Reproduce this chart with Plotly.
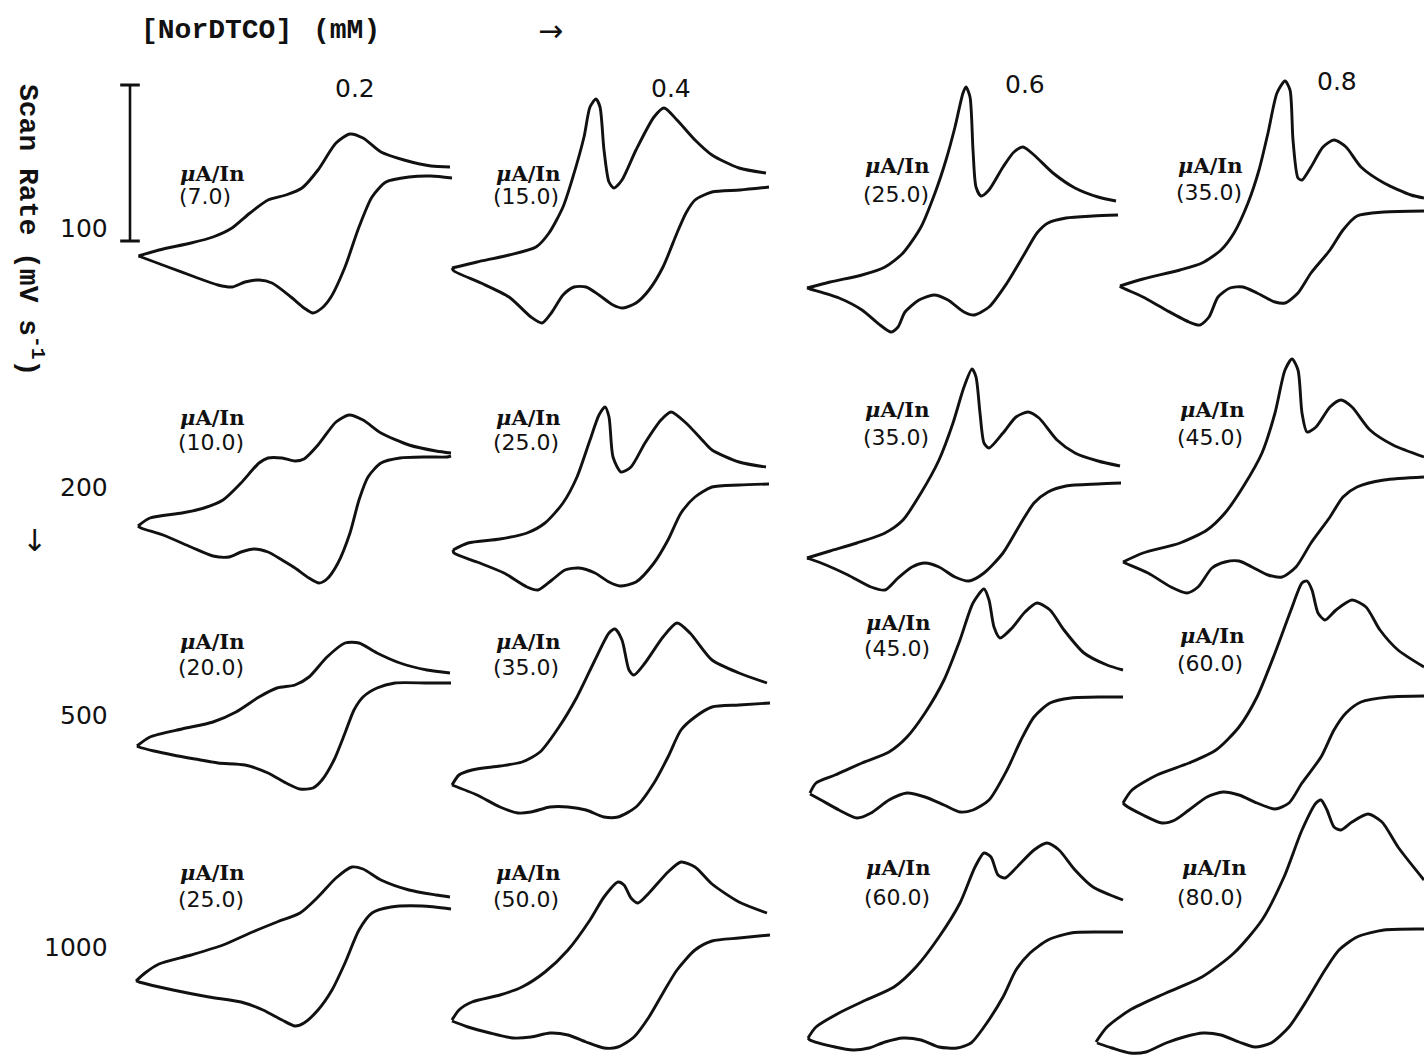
import plotly.graph_objects as go

# ---------------- labels ----------------
CONCENTRATIONS_MM = ["0.2", "0.4", "0.6", "0.8"]
SCAN_RATES = ["100", "200", "500", "1000"]
SENSITIVITY = [
    [7.0, 15.0, 25.0, 35.0],
    [10.0, 25.0, 35.0, 45.0],
    [20.0, 35.0, 45.0, 60.0],
    [25.0, 50.0, 60.0, 80.0],
]

# ---------------- cyclic voltammograms (relative potential, relative current) ----------------
# scan rate 100 mV/s
E_FWD_100_02 = [23.5, 44, 76, 98, 117, 135, 153, 171, 187, 203, 221, 235, 248, 266, 289, 316, 335]
I_FWD_100_02 = [89, 95, 102, 108, 117, 132, 145, 150, 157, 175, 202, 211, 207, 193, 185, 179, 178]
E_REV_100_02 = [337, 316, 294, 271, 257, 244, 230, 216, 207, 198, 189, 176, 157, 144, 130, 117, 103, 80, 53, 23.5]
I_REV_100_02 = [167, 169, 168, 163, 148, 118, 78, 48, 37, 32, 37, 48, 62, 65, 63, 58, 60, 68, 78, 89]

E_FWD_100_04 = [12, 37, 69, 96, 109, 123, 132, 144, 150, 156, 160, 164, 169, 174, 182, 196, 214, 224, 237, 255, 272, 299, 326]
I_FWD_100_04 = [77, 83, 90, 98, 112, 138, 165, 208, 238, 246, 238, 195, 163, 157, 165, 195, 228, 237, 225, 205, 190, 177, 172]
E_REV_100_04 = [329, 300, 272, 255, 246, 237, 223, 209, 196, 183, 173, 159, 146, 134, 123, 112, 102, 91, 69, 41, 14, 12]
I_REV_100_04 = [158, 155, 153, 145, 132, 112, 78, 55, 42, 37, 40, 50, 58, 58, 50, 33, 22, 28, 48, 62, 74, 77]

E_FWD_100_06 = [12, 35, 67, 90, 108, 126, 140, 151, 160, 168, 171, 175, 178, 181, 186, 194, 208, 219, 228, 239, 258, 280, 303, 321]
I_FWD_100_06 = [57, 63, 70, 78, 92, 118, 152, 185, 218, 252, 258, 248, 195, 158, 149, 155, 178, 193, 198, 190, 172, 157, 148, 144]
E_REV_100_06 = [323, 298, 271, 253, 242, 230, 212, 194, 179, 169, 153, 139, 124, 110, 103, 96, 85, 67, 44, 15, 12]
I_REV_100_06 = [130, 129, 127, 122, 112, 92, 62, 38, 30, 33, 45, 50, 45, 33, 18, 13, 20, 35, 47, 56, 57]

E_FWD_100_08 = [30, 53, 90, 112, 131, 144, 158, 169, 178, 187, 195, 200, 203, 208, 212, 221, 233, 244, 256, 271, 294, 321, 334]
I_FWD_100_08 = [59, 66, 75, 82, 95, 112, 142, 175, 212, 252, 264, 255, 205, 167, 165, 178, 198, 205, 198, 178, 162, 150, 147]
E_REV_100_08 = [334, 294, 267, 253, 240, 221, 208, 195, 185, 167, 153, 140, 128, 119, 110, 99, 76, 53, 31, 30]
I_REV_100_08 = [134, 133, 129, 115, 95, 72, 52, 42, 43, 52, 58, 57, 48, 28, 20, 23, 35, 48, 58, 59]

# scan rate 200 mV/s
E_FWD_200_02 = [23, 35, 67, 89, 108, 126, 144, 153, 167, 180, 189, 203, 221, 234, 248, 266, 294, 321, 336]
I_FWD_200_02 = [74, 82, 87, 92, 100, 117, 137, 142, 142, 139, 141, 155, 178, 185, 180, 167, 155, 149, 147]
E_REV_200_02 = [336, 332, 312, 285, 266, 253, 244, 235, 223, 212, 204, 194, 180, 167, 153, 139, 126, 114, 98, 76, 48, 26, 23]
I_REV_200_02 = [144, 143, 143, 142, 137, 123, 100, 67, 37, 21, 17, 22, 32, 40, 48, 51, 48, 43, 44, 53, 65, 72, 74]

E_FWD_200_04 = [13, 28, 60, 87, 105, 123, 137, 150, 159, 165, 169, 173, 181, 191, 205, 221, 231, 246, 264, 272, 299, 326]
I_FWD_200_04 = [50, 57, 61, 67, 77, 97, 123, 160, 185, 193, 183, 143, 128, 133, 157, 180, 188, 177, 158, 150, 138, 133]
E_REV_200_04 = [329, 299, 272, 255, 241, 228, 214, 196, 180, 169, 155, 139, 125, 112, 98, 87, 64, 37, 14, 13]
I_REV_200_04 = [116, 115, 113, 103, 87, 60, 37, 18, 14, 18, 27, 32, 30, 20, 10, 13, 27, 38, 47, 50]

E_FWD_200_06 = [12, 35, 62, 90, 108, 126, 144, 158, 169, 177, 181, 185, 189, 194, 208, 221, 233, 244, 262, 280, 303, 325]
I_FWD_200_06 = [42, 49, 57, 67, 80, 107, 140, 177, 213, 231, 223, 187, 157, 152, 167, 183, 188, 182, 160, 147, 139, 134]
E_REV_200_06 = [326, 303, 271, 253, 239, 226, 208, 189, 174, 160, 144, 130, 117, 103, 90, 76, 53, 31, 15, 12]
I_REV_200_06 = [117, 116, 114, 108, 97, 77, 47, 27, 19, 23, 33, 37, 33, 22, 10, 13, 25, 35, 41, 42]

E_FWD_200_08 = [33, 53, 90, 117, 135, 153, 172, 185, 195, 202, 208, 212, 217, 226, 240, 251, 262, 280, 303, 334]
I_FWD_200_08 = [38, 47, 57, 70, 87, 113, 147, 187, 230, 241, 230, 187, 168, 173, 193, 200, 193, 170, 155, 143]
E_REV_200_08 = [334, 294, 267, 253, 240, 221, 206, 192, 178, 162, 149, 135, 122, 108, 97, 81, 58, 35, 33]
I_REV_200_08 = [123, 120, 113, 103, 83, 57, 33, 23, 25, 33, 39, 38, 32, 13, 7, 13, 27, 37, 38]

# scan rate 500 mV/s
E_FWD_500_02 = [22, 35, 67, 98, 121, 144, 162, 180, 194, 212, 230, 244, 262, 285, 312, 335]
I_FWD_500_02 = [84, 93, 101, 108, 118, 133, 142, 145, 153, 173, 187, 187, 177, 167, 160, 157]
E_REV_500_02 = [336, 312, 280, 262, 248, 239, 230, 219, 207, 198, 185, 171, 153, 130, 103, 80, 58, 39, 24, 22]
I_REV_500_02 = [147, 147, 147, 142, 133, 120, 97, 70, 50, 42, 41, 47, 57, 65, 67, 71, 75, 79, 83, 84]

E_FWD_500_04 = [12, 19, 32, 60, 82, 100, 119, 137, 155, 169, 175, 182, 189, 194, 205, 223, 237, 250, 272, 299, 327]
I_FWD_500_04 = [45, 55, 60, 64, 68, 78, 103, 133, 170, 197, 201, 190, 160, 155, 167, 193, 207, 197, 170, 157, 147]
E_REV_500_04 = [330, 299, 272, 255, 241, 228, 214, 196, 178, 164, 146, 128, 110, 91, 78, 60, 37, 12]
I_REV_500_04 = [127, 125, 123, 113, 100, 73, 47, 23, 13, 13, 20, 23, 23, 18, 17, 23, 35, 45]

E_FWD_500_06 = [15, 21, 40, 67, 94, 112, 130, 149, 165, 178, 189, 194, 199, 205, 217, 230, 242, 255, 269, 289, 312, 328]
I_FWD_500_06 = [37, 47, 55, 67, 78, 93, 117, 150, 190, 227, 241, 230, 203, 192, 202, 218, 227, 220, 200, 177, 165, 160]
E_REV_500_06 = [328, 308, 276, 255, 239, 226, 212, 194, 178, 165, 149, 130, 112, 94, 76, 62, 44, 26, 15]
I_REV_500_06 = [133, 133, 132, 127, 113, 90, 60, 30, 20, 18, 25, 33, 37, 30, 17, 12, 20, 30, 36]

E_FWD_500_08 = [33, 42, 67, 99, 126, 149, 167, 185, 201, 212, 217, 222, 228, 235, 246, 262, 276, 290, 308, 334]
I_FWD_500_08 = [27, 40, 55, 67, 80, 103, 133, 177, 220, 247, 249, 240, 217, 210, 220, 230, 223, 200, 180, 163]
E_REV_500_08 = [334, 299, 271, 256, 244, 231, 212, 199, 185, 167, 149, 133, 117, 99, 85, 72, 53, 35, 33]
I_REV_500_08 = [134, 133, 128, 117, 100, 73, 47, 27, 21, 27, 35, 38, 33, 20, 10, 7, 15, 25, 27]

# scan rate 1000 mV/s
E_FWD_1000_02 = [21, 30, 44, 76, 108, 135, 162, 185, 203, 221, 237, 248, 266, 294, 321, 335]
I_FWD_1000_02 = [75, 83, 92, 101, 111, 123, 134, 143, 159, 178, 189, 187, 176, 166, 161, 159]
E_REV_1000_02 = [336, 307, 276, 257, 244, 230, 217, 203, 189, 180, 167, 148, 126, 94, 58, 24, 21]
I_REV_1000_02 = [147, 150, 149, 143, 126, 93, 66, 46, 33, 30, 36, 46, 54, 59, 66, 74, 75]

E_FWD_1000_04 = [12, 19, 32, 60, 82, 105, 128, 150, 164, 178, 184, 191, 198, 209, 228, 241, 255, 272, 299, 327]
I_FWD_1000_04 = [36, 46, 54, 61, 69, 84, 106, 136, 159, 174, 171, 158, 153, 163, 184, 194, 189, 172, 154, 143]
E_REV_1000_04 = [330, 299, 272, 255, 237, 223, 209, 194, 178, 164, 146, 128, 110, 91, 73, 50, 28, 12]
I_REV_1000_04 = [121, 118, 115, 106, 86, 63, 39, 19, 9, 8, 14, 21, 23, 19, 18, 23, 29, 35]

E_FWD_1000_06 = [13, 21, 44, 71, 99, 121, 144, 165, 180, 189, 196, 203, 210, 221, 239, 252, 264, 280, 298, 328]
I_FWD_1000_06 = [18, 29, 43, 56, 69, 89, 119, 153, 189, 203, 199, 181, 178, 188, 206, 213, 206, 186, 169, 156]
E_REV_1000_06 = [328, 303, 276, 253, 235, 221, 208, 189, 176, 162, 144, 126, 108, 90, 74, 58, 40, 15, 13]
I_REV_1000_06 = [124, 124, 123, 116, 103, 86, 59, 29, 13, 8, 9, 16, 18, 14, 8, 6, 9, 16, 18]

E_FWD_1000_08 = [6, 17, 40, 76, 112, 144, 172, 194, 212, 226, 231, 237, 244, 251, 262, 278, 292, 308, 334]
I_FWD_1000_08 = [14, 29, 46, 63, 79, 103, 136, 179, 226, 253, 256, 246, 229, 226, 234, 242, 234, 209, 176]
E_REV_1000_08 = [334, 294, 267, 249, 235, 217, 199, 181, 165, 149, 131, 113, 94, 76, 56, 40, 22, 7]
I_REV_1000_08 = [127, 126, 119, 106, 86, 56, 29, 13, 9, 14, 21, 23, 19, 13, 4, 3, 8, 13]

# current scale bar (drawn in the first panel)
SCALE_BAR_E = [15, 15]
SCALE_BAR_I = [104, 260]

FWD_E = [[E_FWD_100_02, E_FWD_100_04, E_FWD_100_06, E_FWD_100_08],
         [E_FWD_200_02, E_FWD_200_04, E_FWD_200_06, E_FWD_200_08],
         [E_FWD_500_02, E_FWD_500_04, E_FWD_500_06, E_FWD_500_08],
         [E_FWD_1000_02, E_FWD_1000_04, E_FWD_1000_06, E_FWD_1000_08]]
FWD_I = [[I_FWD_100_02, I_FWD_100_04, I_FWD_100_06, I_FWD_100_08],
         [I_FWD_200_02, I_FWD_200_04, I_FWD_200_06, I_FWD_200_08],
         [I_FWD_500_02, I_FWD_500_04, I_FWD_500_06, I_FWD_500_08],
         [I_FWD_1000_02, I_FWD_1000_04, I_FWD_1000_06, I_FWD_1000_08]]
REV_E = [[E_REV_100_02, E_REV_100_04, E_REV_100_06, E_REV_100_08],
         [E_REV_200_02, E_REV_200_04, E_REV_200_06, E_REV_200_08],
         [E_REV_500_02, E_REV_500_04, E_REV_500_06, E_REV_500_08],
         [E_REV_1000_02, E_REV_1000_04, E_REV_1000_06, E_REV_1000_08]]
REV_I = [[I_REV_100_02, I_REV_100_04, I_REV_100_06, I_REV_100_08],
         [I_REV_200_02, I_REV_200_04, I_REV_200_06, I_REV_200_08],
         [I_REV_500_02, I_REV_500_04, I_REV_500_06, I_REV_500_08],
         [I_REV_1000_02, I_REV_1000_04, I_REV_1000_06, I_REV_1000_08]]

# ---------------- layout geometry (pixels) ----------------
W, H = 1424, 1056
COL_LEFT = [115, 440, 795, 1090]
COL_WIDTH = [345, 345, 345, 334]
ROW_BOTTOM = [345, 600, 830, 1056]
ROW_HEIGHT = 280

# label anchor positions (pixels)
UNIT_POS = [[(212, 173), (528, 173), (897, 165), (1210, 165)],
            [(212, 418), (528, 418), (897, 410), (1212, 410)],
            [(212, 641), (528, 641), (898, 622), (1212, 635)],
            [(212, 872), (528, 872), (898, 867), (1214, 867)]]
VAL_POS = [[(205, 197), (526, 197), (896, 194), (1209, 193)],
           [(211, 442), (526, 442), (896, 437), (1210, 437)],
           [(211, 667), (526, 667), (897, 648), (1210, 663)],
           [(211, 899), (526, 899), (897, 897), (1210, 897)]]
COL_LABEL_POS = [(355, 89), (671, 89), (1025, 85), (1337, 82)]
ROW_LABEL_Y = [229, 487, 715, 947]


def px(x, y):
    return x / W, 1 - y / H


fig = go.Figure()
layout_axes = {}
LINE = dict(color="#111111", width=2.9, shape="spline", smoothing=0.7)

idx = 0
for r in range(4):
    for c in range(4):
        idx += 1
        xa = "x" if idx == 1 else f"x{idx}"
        ya = "y" if idx == 1 else f"y{idx}"
        xname = "xaxis" if idx == 1 else f"xaxis{idx}"
        yname = "yaxis" if idx == 1 else f"yaxis{idx}"
        x0 = COL_LEFT[c] / W
        x1 = min(1.0, (COL_LEFT[c] + COL_WIDTH[c]) / W)
        y0 = (H - ROW_BOTTOM[r]) / H
        y1 = (H - ROW_BOTTOM[r] + ROW_HEIGHT) / H
        layout_axes[xname] = dict(domain=[x0, x1], range=[0, COL_WIDTH[c]], visible=False,
                                  anchor=ya, fixedrange=True)
        layout_axes[yname] = dict(domain=[y0, y1], range=[0, ROW_HEIGHT], visible=False,
                                  anchor=xa, fixedrange=True)
        fig.add_trace(go.Scatter(x=FWD_E[r][c], y=FWD_I[r][c], mode="lines", line=LINE,
                                 xaxis=xa, yaxis=ya, showlegend=False, hoverinfo="skip"))
        fig.add_trace(go.Scatter(x=REV_E[r][c], y=REV_I[r][c], mode="lines", line=LINE,
                                 xaxis=xa, yaxis=ya, showlegend=False, hoverinfo="skip"))
        if idx == 1:
            fig.add_trace(go.Scatter(x=SCALE_BAR_E, y=SCALE_BAR_I, mode="lines+markers",
                                     line=dict(color="#111111", width=2.6),
                                     marker=dict(symbol="line-ew", size=14,
                                                 line=dict(width=3, color="#111111")),
                                     xaxis=xa, yaxis=ya, showlegend=False, hoverinfo="skip"))

annotations = []
SERIF_MONO = "Liberation Mono, Courier New, monospace"
SANS = "DejaVu Sans, Arial, sans-serif"
UNIT_FONT = "DejaVu Serif, serif"


def note(x, y, text, font, **kw):
    ax_, ay_ = px(x, y)
    d = dict(x=ax_, y=ay_, xref="paper", yref="paper", showarrow=False, text=text,
             font=font, xanchor="center", yanchor="middle")
    d.update(kw)
    annotations.append(d)


note(216, 31, "<b>[NorDTCO]</b>", dict(family=SERIF_MONO, size=28, color="#111"))
note(346, 31, "<b>(mM)</b>", dict(family=SERIF_MONO, size=28, color="#111"))
note(550, 30, "→", dict(family=SANS, size=30, color="#111"))
note(30, 230, "<b>Scan Rate (mV s<sup>-1</sup>)</b>", dict(family=SERIF_MONO, size=28, color="#111"),
     textangle=90)
note(34, 540, "↓", dict(family=SANS, size=30, color="#111"))

for c, lab in enumerate(CONCENTRATIONS_MM):
    note(COL_LABEL_POS[c][0], COL_LABEL_POS[c][1], lab, dict(family=SANS, size=25, color="#111"))
for r, lab in enumerate(SCAN_RATES):
    note(110, ROW_LABEL_Y[r], lab, dict(family=SANS, size=25, color="#111"), xanchor="right")
for r in range(4):
    for c in range(4):
        note(UNIT_POS[r][c][0], UNIT_POS[r][c][1], "<b><i>μ</i>A/In</b>",
             dict(family=UNIT_FONT, size=21, color="#111"))
        note(VAL_POS[r][c][0], VAL_POS[r][c][1], f"({SENSITIVITY[r][c]:.1f})",
             dict(family=SANS, size=22, color="#111"))

fig.update_layout(width=W, height=H, margin=dict(l=0, r=0, t=0, b=0),
                  paper_bgcolor="white", plot_bgcolor="rgba(0,0,0,0)",
                  annotations=annotations, **layout_axes)

fig.write_html("out.html", config={"displayModeBar": False},
               post_script="document.body.style.margin='0';document.body.style.overflow='hidden';")
